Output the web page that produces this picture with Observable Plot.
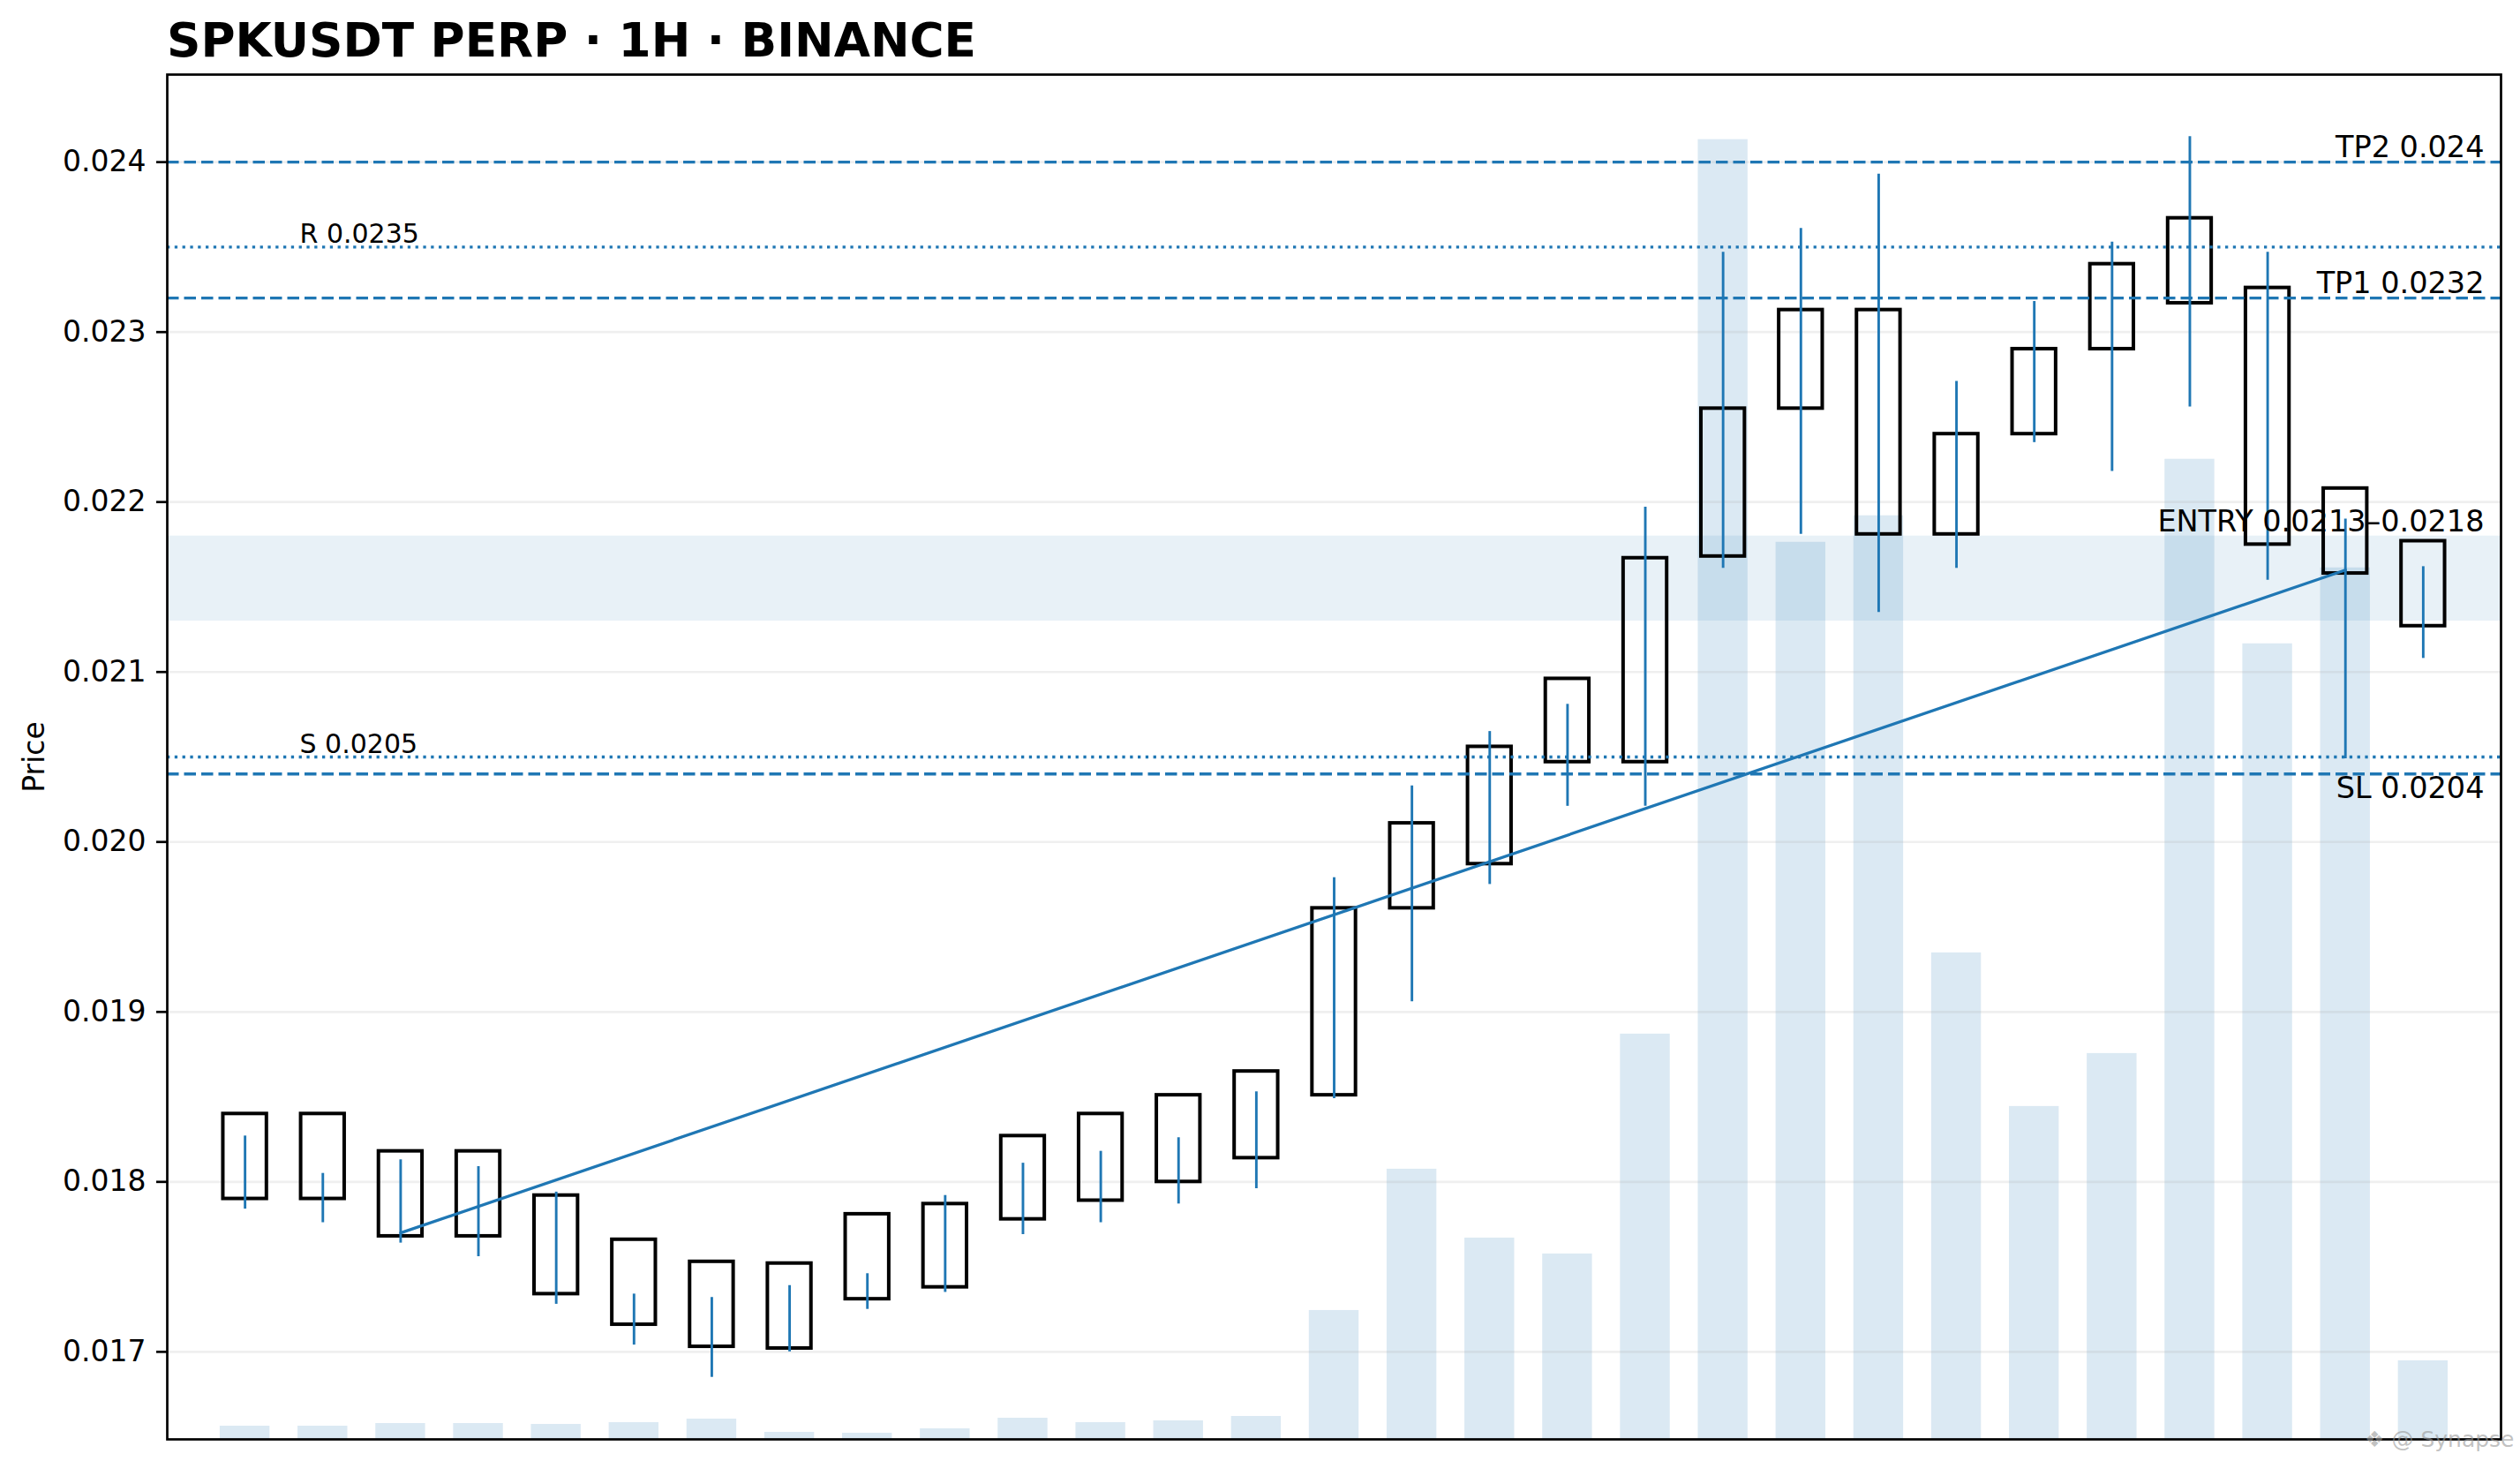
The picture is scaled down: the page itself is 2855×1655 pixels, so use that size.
<!DOCTYPE html>
<html>
<head>
<meta charset="utf-8">
<script src="https://cdn.jsdelivr.net/npm/d3@7"></script>
<script src="https://cdn.jsdelivr.net/npm/@observablehq/plot@0.6"></script>
<style>
  body { margin: 0; background: #fff; }
  #wrap { position: relative; width: 2855px; height: 1655px; font-family: "DejaVu Sans", sans-serif; }
  #wrap svg { position: absolute; left: 0; top: 0; }
  #title { position: absolute; left: 189px; top: 20px; z-index: 5; font: bold 53.3px/53.3px "DejaVu Sans", sans-serif; white-space: nowrap; color: #000; }
</style>
</head>
<body>
<div id="wrap"><div id="title">SPKUSDT PERP · 1H · BINANCE</div></div>
<script>
// ---- data ----
const bodyHi = [0.01840,0.01840,0.01818,0.01818,0.01792,0.01766,0.01753,0.01752,0.01781,0.01787,
                0.01827,0.01840,0.01851,0.01865,0.01961,0.02011,0.02056,0.02096,0.02167,0.02255,
                0.02313,0.02313,0.02240,0.02290,0.02340,0.02367,0.02326,0.02208,0.02177];
const bodyLo = [0.01790,0.01790,0.01768,0.01768,0.01734,0.01716,0.01703,0.01702,0.01731,0.01738,
                0.01778,0.01789,0.01800,0.01814,0.01851,0.01961,0.01987,0.02047,0.02047,0.02168,
                0.02255,0.02181,0.02181,0.02240,0.02290,0.02317,0.02175,0.02158,0.02127];
const wickHi = [0.01827,0.01805,0.01813,0.01809,0.01794,0.01734,0.01732,0.01739,0.01746,0.01792,
                0.01811,0.01818,0.01826,0.01853,0.01979,0.02033,0.02065,0.02081,0.02197,0.02347,
                0.02361,0.02393,0.02271,0.02318,0.02353,0.02415,0.02347,0.02190,0.02162];
const wickLo = [0.01784,0.01776,0.01764,0.01756,0.01728,0.01704,0.01685,0.01700,0.01725,0.01735,
                0.01769,0.01776,0.01787,0.01796,0.01849,0.01906,0.01975,0.02021,0.02021,0.02161,
                0.02181,0.02135,0.02161,0.02235,0.02218,0.02256,0.02154,0.02049,0.02108];
const volume = [30,30,36,36,34,38,46,16,14,24,48,38,42,52,292,612,456,420,918,2944,
                2032,2092,1102,754,874,2220,1802,1974,178];
const yTicks = [0.017,0.018,0.019,0.020,0.021,0.022,0.023,0.024];
const trendX = [2, 27];
const trendY = [0.0177, 0.0216];
const dashedLevels = [
  {value: 0.0240, label: "TP2 0.024", pos: "above"},
  {value: 0.0232, label: "TP1 0.0232", pos: "above"},
  {value: 0.0204, label: "SL 0.0204", pos: "below"}
];
const dottedLevels = [
  {value: 0.0235, label: "R 0.0235"},
  {value: 0.0205, label: "S 0.0205"}
];
const entryZone = [{lo: 0.0213, hi: 0.0218, label: "ENTRY 0.0213–0.0218"}];

// ---- tables ----
const candles = bodyHi.map((_, i) => ({i, bodyHi: bodyHi[i], bodyLo: bodyLo[i], wickHi: wickHi[i], wickLo: wickLo[i], vol: volume[i]}));
const trend = trendX.map((x, k) => ({x, y: trendY[k]}));

const lo = d3.min(wickLo), hi = d3.max(wickHi), pad = (hi - lo) * 0.05;
const yDomain = [lo - pad, hi + pad];
const xDomain = [-1, candles.length];
const blue = "#1f77b4";

const common = {
  width: 2855, height: 1655,
  marginLeft: 189, marginRight: 22, marginTop: 84, marginBottom: 25,
  x: {domain: xDomain, axis: null}
};

const bodyW = 0.28, volW = 0.32;

const volPlot = Plot.plot({
  ...common,
  style: {background: "white", fontFamily: "DejaVu Sans"},
  y: {domain: [0, d3.max(volume) * 1.05], axis: null},
  marks: [
    Plot.rect(candles, {x1: d => d.i - volW, x2: d => d.i + volW, y1: 0, y2: "vol", fill: blue, fillOpacity: 0.16})
  ]
});

const pricePlot = Plot.plot({
  ...common,
  style: {background: "transparent", fontFamily: "DejaVu Sans", overflow: "visible"},
  y: {domain: yDomain},
  marks: [
    Plot.rect(entryZone, {y1: "lo", y2: "hi", fill: blue, fillOpacity: 0.1}),
    Plot.gridY(yTicks, {stroke: "#b0b0b0", strokeOpacity: 0.2, strokeWidth: 2.7}),
    Plot.axisY(yTicks, {
      tickSize: 12, tickPadding: 12, fontSize: 33, strokeWidth: 2.7, fill: "black",
      tickFormat: d => d.toFixed(3),
      label: "Price", labelAnchor: "center", labelArrow: "none", labelOffset: 163
    }),
    Plot.rect(candles, {x1: d => d.i - bodyW, x2: d => d.i + bodyW, y1: "bodyLo", y2: "bodyHi", fill: "none", stroke: "black", strokeWidth: 4}),
    Plot.ruleY(dashedLevels, {y: "value", stroke: blue, strokeWidth: 3.3, strokeDasharray: "13.5,6"}),
    Plot.ruleY(dottedLevels, {y: "value", stroke: blue, strokeWidth: 3.3, strokeDasharray: "3.3,5.5"}),
    Plot.ruleX(candles, {x: "i", y1: "wickLo", y2: "wickHi", stroke: blue, strokeWidth: 2.9}),
    Plot.line(trend, {x: "x", y: "y", stroke: blue, strokeWidth: 3.3}),
    Plot.text(dashedLevels.filter(d => d.pos === "above"), {y: "value", text: "label", frameAnchor: "right", textAnchor: "end", lineAnchor: "bottom", dx: -19, dy: -5.5, fontSize: 33.5, fill: "black"}),
    Plot.text(dashedLevels.filter(d => d.pos === "below"), {y: "value", text: "label", frameAnchor: "right", textAnchor: "end", lineAnchor: "top", dx: -19, dy: 3.5, fontSize: 33.5, fill: "black"}),
    Plot.text(entryZone, {y: "hi", text: "label", frameAnchor: "right", textAnchor: "end", lineAnchor: "bottom", dx: -19, dy: -5.5, fontSize: 33.5, fill: "black"}),
    Plot.text(dottedLevels, {y: "value", text: "label", frameAnchor: "left", textAnchor: "start", lineAnchor: "bottom", dx: 150, dy: -5, fontSize: 30, fill: "black"}),
    Plot.frame({stroke: "black", strokeWidth: 2.7}),
    Plot.text(["❖ @ Synapse"], {frameAnchor: "bottom-right", textAnchor: "end", lineAnchor: "bottom", dx: 15, dy: 8, fontSize: 25, fill: "#999", fillOpacity: 0.6})
  ]
});

const wrap = document.getElementById("wrap");
wrap.appendChild(volPlot);
wrap.appendChild(pricePlot);
</script>
</body>
</html>
